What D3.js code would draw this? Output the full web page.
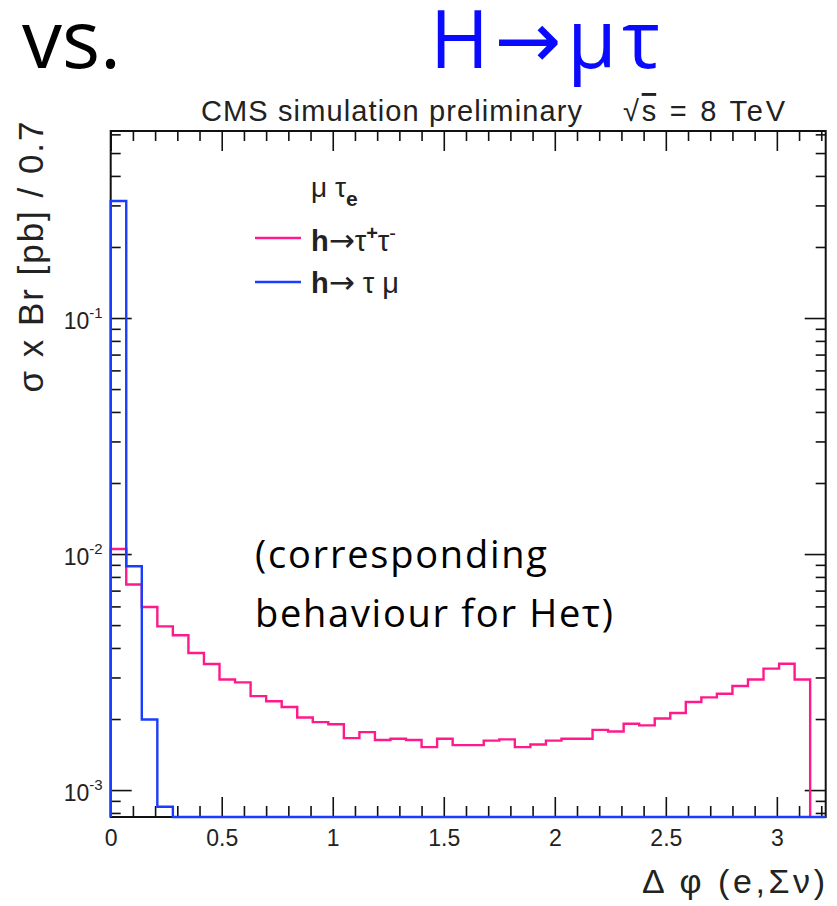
<!DOCTYPE html>
<html>
<head>
<meta charset="utf-8">
<script src="https://cdn.jsdelivr.net/npm/d3@7"></script>
<style>
  body { margin: 0; background: #fff; }
  svg { display: block; }
</style>
</head>
<body>
<svg></svg>
<script>
// histogram bins are 0.07 wide in delta phi, starting at 0
const binWidth = 0.07;

// h -> tau+ tau- (pink), one value per bin
const tautauValues = [
  0.0105, 0.00743, 0.00597, 0.00494, 0.00453, 0.00381, 0.00342, 0.00294, 0.00286, 0.00250,
  0.00238, 0.00225, 0.00203, 0.00194, 0.00190, 0.00166, 0.00176, 0.00163, 0.00165, 0.00163,
  0.00152, 0.00165, 0.00155, 0.00155, 0.00162, 0.00164, 0.00152, 0.00156, 0.00162, 0.00165,
  0.00165, 0.00180, 0.00177, 0.00191, 0.00188, 0.00201, 0.00212, 0.00236, 0.00247, 0.00256,
  0.00276, 0.00294, 0.00327, 0.00343, 0.00294
];

// h -> tau mu (blue), one value per bin
const taumuValues = [
  0.313, 0.00888, 0.00199, 0.00085, 0, 0, 0, 0, 0, 0,
  0, 0, 0, 0, 0, 0, 0, 0, 0, 0,
  0, 0, 0, 0, 0, 0, 0, 0, 0, 0,
  0, 0, 0, 0, 0, 0, 0, 0, 0, 0,
  0, 0, 0, 0, 0, 0
];

const xMajorTicks = [0, 0.5, 1, 1.5, 2, 2.5, 3];
const xTickLabels = ["0", "0.5", "1", "1.5", "2", "2.5", "3"];
const yMajorTicks = [1e-3, 1e-2, 1e-1];
const yTickExponents = ["-3", "-2", "-1"];

const xDomain = [0, 3.22];
const yDomain = [7.69e-4, 0.62];

// margins
const margin = {top: 131, right: 11.3, bottom: 89, left: 110.7},
    width = 837 - margin.left - margin.right,
    height = 906 - margin.top - margin.bottom;

const rootFont = "'Liberation Sans', Arial, sans-serif";
const slideFont = "'Open Sans', 'DejaVu Sans', sans-serif";
const arrowFont = "'DejaVu Sans', sans-serif";

const svg = d3.select("svg")
    .attr("width", 837)
    .attr("height", 906);

const g = svg.append("g")
    .attr("transform", "translate(" + margin.left + "," + margin.top + ")");

// scales
const x = d3.scaleLinear().domain(xDomain).range([0, width]);
const y = d3.scaleLog().domain(yDomain).range([height, 0]);

const xMinor = d3.range(1, 33).filter(i => i % 5 !== 0).map(i => i / 10);
const yMinor = [];
[-4, -3, -2, -1].forEach(e => {
  for (let m = 2; m <= 9; m++) {
    const v = m * Math.pow(10, e);
    if (v > yDomain[0] && v < yDomain[1]) yMinor.push(v);
  }
});

// frame
g.append("rect")
    .attr("width", width)
    .attr("height", height)
    .attr("fill", "none")
    .attr("stroke", "#111")
    .attr("stroke-width", 2);

function styleAxis(sel) {
  sel.select(".domain").remove();
  sel.selectAll(".tick line").attr("stroke", "#111").attr("stroke-width", 1.6);
}

// bottom axis
g.append("g")
    .attr("transform", `translate(0,${height})`)
    .call(d3.axisBottom(x).tickValues(xMajorTicks).tickSizeInner(-20).tickSizeOuter(0)
      .tickPadding(13).tickFormat((d, i) => xTickLabels[i]))
    .call(styleAxis)
  .selectAll("text")
    .style("font-family", rootFont)
    .style("font-size", "23px")
    .attr("fill", "#222");

g.append("g")
    .attr("transform", `translate(0,${height})`)
    .call(d3.axisBottom(x).tickValues(xMinor).tickSizeInner(-11).tickSizeOuter(0).tickFormat(""))
    .call(styleAxis);

// top axis
g.append("g")
    .call(d3.axisTop(x).tickValues(xMajorTicks).tickSizeInner(-20).tickSizeOuter(0).tickFormat(""))
    .call(styleAxis);
g.append("g")
    .call(d3.axisTop(x).tickValues(xMinor).tickSizeInner(-10).tickSizeOuter(0).tickFormat(""))
    .call(styleAxis);

// left axis
const yAxisG = g.append("g")
    .call(d3.axisLeft(y).tickValues(yMajorTicks).tickSizeInner(-21).tickSizeOuter(0).tickPadding(8))
    .call(styleAxis);

yAxisG.selectAll(".tick text")
    .style("font-family", rootFont)
    .style("font-size", "23px")
    .attr("fill", "#222")
    .attr("dy", "10")
    .each(function(d, i) {
      const t = d3.select(this);
      t.text(null);
      t.append("tspan").text("10");
      t.append("tspan").attr("dy", -11).style("font-size", "15px").text(yTickExponents[i]);
    });

g.append("g")
    .call(d3.axisLeft(y).tickValues(yMinor).tickSizeInner(-10).tickSizeOuter(0).tickFormat(""))
    .call(styleAxis);

// right axis
g.append("g")
    .attr("transform", `translate(${width},0)`)
    .call(d3.axisRight(y).tickValues(yMajorTicks).tickSizeInner(-21).tickSizeOuter(0).tickFormat(""))
    .call(styleAxis);
g.append("g")
    .attr("transform", `translate(${width},0)`)
    .call(d3.axisRight(y).tickValues(yMinor).tickSizeInner(-10).tickSizeOuter(0).tickFormat(""))
    .call(styleAxis);

// histograms
svg.append("defs").append("clipPath")
    .attr("id", "plotclip")
  .append("rect")
    .attr("x", -3).attr("y", -3)
    .attr("width", width + 6).attr("height", height + 6);

function histPoints(values) {
  const pts = [[0, 0]];
  values.forEach((v, i) => {
    pts.push([i * binWidth, v], [(i + 1) * binWidth, v]);
  });
  pts.push([values.length * binWidth, 0]);
  return pts;
}

const histLine = d3.line()
    .x(d => x(Math.min(d[0], xDomain[1])))
    .y(d => y(Math.max(d[1], yDomain[0])));

const series = [
  {name: "tautau", values: tautauValues, color: "#ff1a8c"},
  {name: "taumu", values: taumuValues, color: "#1a3cff"}
];

g.append("g")
    .attr("clip-path", "url(#plotclip)")
  .selectAll("path")
  .data(series)
  .join("path")
    .attr("d", d => histLine(histPoints(d.values)))
    .attr("fill", "none")
    .attr("stroke", d => d.color)
    .attr("stroke-width", 2.4)
    .attr("stroke-linejoin", "miter");

// legend
const legend = svg.append("g").style("font-family", rootFont).attr("fill", "#222");

const head = legend.append("text")
    .attr("x", 311)
    .attr("y", 197)
    .style("font-size", "28px");
head.append("tspan").text("μ τ");
head.append("tspan").attr("dy", 9).style("font-size", "21px").style("font-weight", "bold").text("e");

legend.append("line")
    .attr("x1", 255).attr("x2", 301).attr("y1", 238).attr("y2", 238)
    .attr("stroke", series[0].color).attr("stroke-width", 2.4);
legend.append("line")
    .attr("x1", 255).attr("x2", 301).attr("y1", 282).attr("y2", 282)
    .attr("stroke", series[1].color).attr("stroke-width", 2.4);

const l1 = legend.append("text")
    .attr("x", 311)
    .attr("y", 251)
    .style("font-size", "29px");
l1.append("tspan").style("font-weight", "bold").text("h");
l1.append("tspan").style("font-family", arrowFont).style("font-size", "31px").text("→");
l1.append("tspan").text("τ");
l1.append("tspan").attr("dy", -11).style("font-size", "20px").style("font-weight", "bold").text("+");
l1.append("tspan").attr("dy", 11).text("τ");
l1.append("tspan").attr("dy", -11).style("font-size", "20px").text("-");

const l2 = legend.append("text")
    .attr("x", 311)
    .attr("y", 293)
    .style("font-size", "29px");
l2.append("tspan").style("font-weight", "bold").text("h");
l2.append("tspan").style("font-family", arrowFont).style("font-size", "31px").text("→");
l2.append("tspan").text(" τ μ");

// CMS header
const header = svg.append("g").style("font-family", rootFont).attr("fill", "#222");
header.append("text")
    .attr("x", 201)
    .attr("y", 121)
    .attr("textLength", 381)
    .style("font-size", "29px")
    .text("CMS simulation preliminary");
const energy = header.append("text")
    .attr("x", 623)
    .attr("y", 121)
    .attr("textLength", 162)
    .style("font-size", "29px");
energy.append("tspan").text("√");
energy.append("tspan").style("text-decoration", "overline").text("s");
energy.append("tspan").text(" = 8 TeV");

// axis titles
svg.append("text")
    .attr("transform", "translate(43,257) rotate(-90)")
    .attr("text-anchor", "middle")
    .attr("textLength", 271)
    .style("font-family", rootFont)
    .style("font-size", "35px")
    .attr("fill", "#222")
    .text("σ x Br [pb] / 0.7");

svg.append("text")
    .attr("x", 642)
    .attr("y", 893)
    .attr("textLength", 183)
    .style("font-family", rootFont)
    .style("font-size", "34px")
    .attr("fill", "#222")
    .text("Δ φ (e,Σν)");

// slide text
svg.append("text")
    .attr("x", 22)
    .attr("y", 68)
    .style("font-family", slideFont)
    .style("font-size", "80px")
    .attr("fill", "#000")
    .text("vs.");

svg.append("text")
    .attr("x", 430)
    .attr("y", 68)
    .attr("textLength", 230)
    .style("font-family", slideFont)
    .style("font-size", "80px")
    .attr("fill", "#0a0aff")
    .text("H→μτ");

const note = svg.append("text")
    .style("font-family", slideFont)
    .style("font-size", "38px")
    .attr("fill", "#000");
note.append("tspan").attr("x", 255).attr("y", 568).attr("textLength", 292).text("(corresponding");
note.append("tspan").attr("x", 255).attr("y", 627).attr("textLength", 358).text("behaviour for Heτ)");
</script>
</body>
</html>
